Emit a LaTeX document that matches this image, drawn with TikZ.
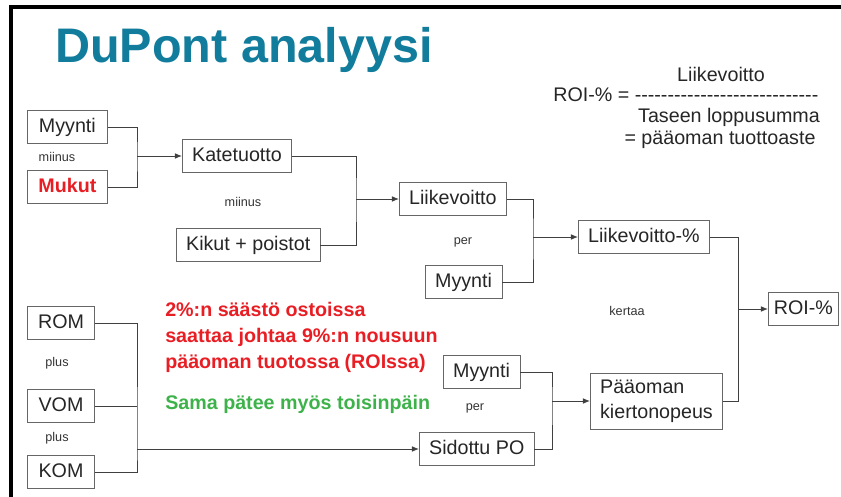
\documentclass[tikz,border=0pt]{standalone}
\usepackage{fontspec}
\setmainfont{Liberation Sans}
\usetikzlibrary{arrows.meta}
\definecolor{titleblue}{RGB}{18,124,156}
\definecolor{notered}{RGB}{232,30,36}
\definecolor{notegreen}{RGB}{62,178,74}

\tikzset{
  boxbase/.style={draw=black!60,fill=white,inner xsep=7pt,inner ysep=5pt,
    text=black!85,font=\fontsize{14}{17}\selectfont},
  box/.style={boxbase,anchor=west,text height=10.5pt,text depth=3pt},
  small/.style={text=black!80,font=\fontsize{9}{11}\selectfont},
  formula/.style={anchor=base,text=black!85,font=\fontsize{14}{17}\selectfont},
  link/.style={draw=black!75,line width=0.6pt},
  tip/.style={link,-{Latex[length=5pt,width=4pt]}}
}
\newcommand\dashrow{\foreach \k in {1,...,28}{-\kern0pt}}

\begin{document}
\begin{tikzpicture}[x=0.025cm,y=-0.025cm]
  \useasboundingbox (0,0) rectangle (841,497);
  \draw[line width=2.2pt] (11,497) -- (11,7) -- (841,7);

  \node[anchor=base west,inner sep=0,text=titleblue,
    font=\bfseries\fontsize{34.5}{38}\selectfont](title) at (55,63){DuPont analyysi};

  % ROI formula
  \node[formula](f-num) at (721,82){Liikevoitto};
  \node[formula,anchor=base west,inner sep=0](f-eq) at (553,102){ROI-\% = \dashrow};
  \node[formula](f-den) at (729,123){Taseen loppusumma};
  \node[formula](f-name) at (720,145){= pääoman tuottoaste};

  % boxes
  \node[box,minimum width=57pt](myynti-a) at (27,127){Myynti};
  \node[box,minimum width=57pt,text=notered,font=\bfseries\fontsize{14}{17}\selectfont](mukut) at (27,187){Mukut};
  \node[box](katetuotto) at (182,156){Katetuotto};
  \node[box](kikut) at (176,245){Kikut + poistot};
  \node[box](liikevoitto) at (399,199){Liikevoitto};
  \node[box](myynti-b) at (425,282){Myynti};
  \node[box](lv-pros) at (578,237){Liikevoitto-\%};
  \node[box,inner xsep=4pt](roi) at (768,309){ROI-\%};
  \node[box,minimum width=48pt](rom) at (27,323){ROM};
  \node[box,minimum width=48pt](vom) at (27,406){VOM};
  \node[box,minimum width=48pt](kom) at (27,472){KOM};
  \node[box](myynti-c) at (443,372){Myynti};
  \node[box](sidottu) at (419,449){Sidottu PO};
  \node[boxbase,anchor=west,align=left,font=\fontsize{14}{17.5}\selectfont](kierto) at (590,401){Pääoman\\kiertonopeus};

  % small words between boxes
  \node[small] at (57,157){miinus};
  \node[small] at (243,202){miinus};
  \node[small] at (463,242){per};
  \node[small] at (627,311){kertaa};
  \node[small] at (57,363){plus};
  \node[small] at (57,438){plus};
  \node[small] at (475,408){per};

  % notes
  \node[anchor=north west,inner sep=0,align=left,text=notered,
    font=\bfseries\fontsize{14}{18.5}\selectfont](note) at (165,302)
    {2\%:n säästö ostoissa\\saattaa johtaa 9\%:n nousuun\\pääoman tuotossa (ROIssa)};
  \node[anchor=base west,inner sep=0,text=notegreen,
    font=\bfseries\fontsize{14}{17}\selectfont](note-b) at (165,409){Sama pätee myös toisinpäin};

  % connectors
  \coordinate (j1) at (137,156);
  \coordinate (j2) at (356,199);
  \coordinate (j3) at (533,237);
  \coordinate (j4) at (738,309);
  \coordinate (j5) at (137,449);
  \coordinate (j6) at (552,401);

  \draw[link](myynti-a.east) -| (j1) |- (mukut.east);
  \draw[tip](j1) -- (katetuotto.west);
  \draw[link](katetuotto.east) -| (j2) |- (kikut.east);
  \draw[tip](j2) -- (liikevoitto.west);
  \draw[link](liikevoitto.east) -| (j3) |- (myynti-b.east);
  \draw[tip](j3) -- (lv-pros.west);
  \draw[link](lv-pros.east) -| (j4) |- (kierto.east);
  \draw[tip](j4) -- (roi.west);
  \draw[link](rom.east) -| (j5) |- (kom.east);
  \draw[link](vom.east) -- (vom.east -| j5);
  \draw[tip](j5) -- (sidottu.west);
  \draw[link](myynti-c.east) -| (j6) |- (sidottu.east);
  \draw[tip](j6) -- (kierto.west);
\end{tikzpicture}
\end{document}
